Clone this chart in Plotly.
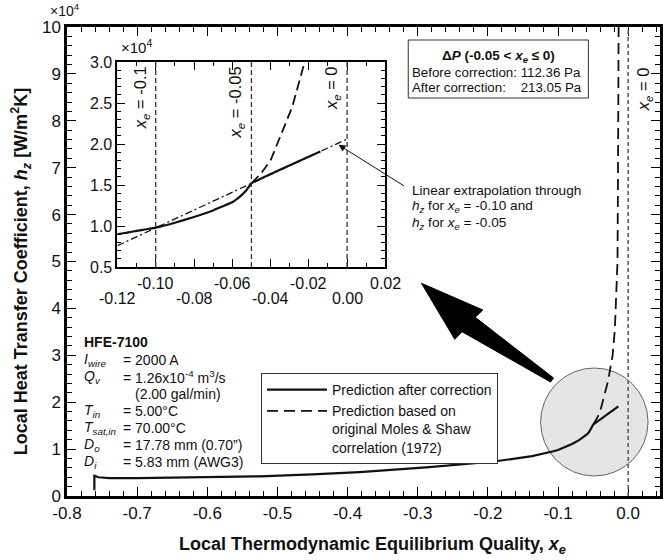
import plotly.graph_objects as go

# ---------------- data (h in units of 1e4 W/m2K) ----------------
x_corr = [-0.761, -0.761, -0.755, -0.74, -0.70, -0.65, -0.60, -0.525, -0.45, -0.383,
          -0.288, -0.194, -0.137, -0.12, -0.115, -0.11, -0.105, -0.10, -0.09, -0.08,
          -0.07, -0.065, -0.06, -0.0575, -0.055, -0.0525, -0.05, -0.014]
h_corr = [0.12, 0.43, 0.40, 0.38, 0.38, 0.39, 0.41, 0.42, 0.46, 0.51,
          0.61, 0.73, 0.85, 0.90, 0.92, 0.94, 0.96, 0.98, 1.04, 1.11,
          1.19, 1.24, 1.29, 1.33, 1.38, 1.44, 1.52, 1.91]

x_orig = [-0.05, -0.045, -0.04, -0.0356, -0.0287, -0.0243, -0.0222, -0.019,
          -0.0152, -0.0146, -0.0141, -0.0136]
h_orig = [1.52, 1.64, 1.80, 2.05, 2.45, 2.82, 3.00, 3.54,
          5.00, 6.50, 8.00, 10.00]

x_lin = [-0.12, -0.10, -0.05, 0.0]
h_lin = [0.76, 0.98, 1.52, 2.06]

main_xticks = [-0.8, -0.7, -0.6, -0.5, -0.4, -0.3, -0.2, -0.1, 0.0]
main_xtext = ["-0.8", "-0.7", "-0.6", "-0.5", "-0.4", "-0.3", "-0.2", "-0.1", "0.0"]
main_yticks = [0, 1, 2, 3, 4, 5, 6, 7, 8, 9, 10]
main_ytext = ["0", "1", "2", "3", "4", "5", "6", "7", "8", "9", "10"]

inset_yticks = [0.5, 1.0, 1.5, 2.0, 2.5, 3.0]
inset_ytext = ["0.5", "1.0", "1.5", "2.0", "2.5", "3.0"]
inset_x_row1 = [-0.10, -0.06, -0.02, 0.02]
inset_x_row1_text = ["-0.10", "-0.06", "-0.02", "0.02"]
inset_x_row2 = [-0.12, -0.08, -0.04, 0.00]
inset_x_row2_text = ["-0.12", "-0.08", "-0.04", "0.00"]

inset_vlines = [-0.1, -0.05, 0.0]
inset_vline_labels = ["-0.1", "-0.05", "0"]

param_labels = ["<i>I</i><sub><i>wire</i></sub>", "<i>Q</i><sub><i>v</i></sub>", "",
                "<i>T</i><sub><i>in</i></sub>", "<i>T</i><sub><i>sat,in</i></sub>",
                "<i>D</i><sub><i>o</i></sub>", "<i>D</i><sub><i>i</i></sub>"]
param_values = ["= 2000 A", "= 1.26x10<sup>-4</sup> m<sup>3</sup>/s", "(2.00 gal/min)",
                "= 5.00°C", "= 70.00°C", "= 17.78 mm (0.70”)", "= 5.83 mm (AWG3)"]

FONT = "Liberation Sans, Arial, Helvetica, sans-serif"

# plot-area geometry in pixels (for decorations)
L, R, T, B = 67, 663, 27, 496


def px(x):
    return (x - L) / (R - L)


def py(y):
    return (B - y) / (B - T)


fig = go.Figure()

# main traces
fig.add_trace(go.Scatter(x=x_orig, y=h_orig, mode="lines", xaxis="x", yaxis="y",
                         line=dict(color="#111", width=1.8, dash="11px,6px"),
                         name="Prediction based on<br>original Moles & Shaw<br>correlation (1972)",
                         legendrank=2))
fig.add_trace(go.Scatter(x=x_corr, y=h_corr, mode="lines", xaxis="x", yaxis="y",
                         line=dict(color="#111", width=2.2),
                         name="Prediction after correction", legendrank=1))

# inset traces
fig.add_trace(go.Scatter(x=x_lin, y=h_lin, mode="lines", xaxis="x2", yaxis="y2",
                         line=dict(color="#111", width=1.3, dash="7px,3px,2px,3px"),
                         showlegend=False))
fig.add_trace(go.Scatter(x=x_orig, y=h_orig, mode="lines", xaxis="x2", yaxis="y2",
                         line=dict(color="#111", width=1.8, dash="10px,5px"),
                         showlegend=False))
fig.add_trace(go.Scatter(x=x_corr, y=h_corr, mode="lines", xaxis="x2", yaxis="y2",
                         line=dict(color="#111", width=2.2, shape="spline", smoothing=0.3),
                         showlegend=False))

axis_common = dict(showline=True, linecolor="black", mirror="ticks", ticks="inside",
                   tickcolor="black", showgrid=False, zeroline=False)

fig.update_layout(
    width=663, height=560, autosize=False,
    margin=dict(l=L, r=663 - R, t=T, b=560 - B),
    paper_bgcolor="white", plot_bgcolor="white",
    font=dict(family=FONT, color="#111"),
    xaxis=dict(domain=[0, 1], range=[-0.8, -0.8 + (R - L) / 705.0], anchor="y",
               tickmode="array", tickvals=main_xticks, ticktext=main_xtext,
               ticklen=9, tickwidth=1.3, linewidth=2.5,
               tickfont=dict(size=17, family=FONT),
               minor=dict(tickmode="linear", tick0=0, dtick=0.02, ticks="inside",
                          ticklen=5, tickwidth=1, tickcolor="black"),
               **axis_common),
    yaxis=dict(domain=[0, 1], range=[0, 10], anchor="x",
               tickmode="array", tickvals=main_yticks, ticktext=main_ytext,
               ticklen=9, tickwidth=1.3, linewidth=2.5,
               tickfont=dict(size=17, family=FONT),
               minor=dict(tickmode="linear", tick0=0, dtick=0.2, ticks="inside",
                          ticklen=5, tickwidth=1, tickcolor="black"),
               **axis_common),
    xaxis2=dict(domain=[px(117.7), px(387)], range=[-0.12, 0.02], anchor="y2",
                tickmode="linear", tick0=-0.12, dtick=0.02, showticklabels=False,
                ticklen=8, tickwidth=1.2, linewidth=2,
                minor=dict(tickmode="linear", tick0=0, dtick=0.01, ticks="inside",
                           ticklen=4, tickwidth=1, tickcolor="black"),
                **axis_common),
    yaxis2=dict(domain=[py(267), py(62)], range=[0.5, 3.0], anchor="x2",
                tickmode="array", tickvals=inset_yticks, ticktext=inset_ytext,
                ticklen=8, tickwidth=1.2, linewidth=2,
                tickfont=dict(size=16, family=FONT),
                minor=dict(tickmode="linear", tick0=0, dtick=0.1, ticks="inside",
                           ticklen=4, tickwidth=1, tickcolor="black"),
                **axis_common),
    legend=dict(x=px(262), y=py(373), xanchor="left", yanchor="top",
                bgcolor="white", bordercolor="#333", borderwidth=1,
                font=dict(size=14, family=FONT), valign="top",
                itemwidth=60, tracegroupgap=4, traceorder="normal"),
    showlegend=True,
)

shapes = []
# magnifier circle (pixel geometry -> main data coords)
cx, cy, r = 597, 422, 54


def dx(p):
    return -0.8 + (p - L) / 705.0


def dy(p):
    return (B - p) / ((B - T) / 10.0)


shapes.append(dict(type="circle", xref="x", yref="y", x0=dx(cx - r), x1=dx(cx + r),
                   y0=dy(cy + r), y1=dy(cy - r), fillcolor="#e5e5e5",
                   line=dict(color="#666", width=1), layer="below"))
# big arrow
arrow_pts = [(423.3, 283.3), (485, 310), (477.3, 317.3), (556, 378), (553, 382),
             (464, 331.7), (456.7, 339.3)]
path = "M " + " L ".join(f"{px(a):.4f},{py(b):.4f}" for a, b in arrow_pts) + " Z"
shapes.append(dict(type="path", xref="paper", yref="paper", path=path,
                   fillcolor="black", line=dict(color="black", width=1)))
# main x_e = 0 line
shapes.append(dict(type="line", xref="x", yref="y domain", x0=0, x1=0, y0=0, y1=1,
                   line=dict(color="#555", width=1.5, dash="4px,3px")))
# inset vertical lines
for v in inset_vlines:
    shapes.append(dict(type="line", xref="x2", yref="y2 domain", x0=v, x1=v, y0=0, y1=1,
                       line=dict(color="#333", width=1.3, dash="5px,3px")))
# delta-P box
shapes.append(dict(type="rect", xref="paper", yref="paper", x0=px(410), x1=px(591),
                   y0=py(98), y1=py(40), line=dict(color="#333", width=1),
                   fillcolor="white"))
fig.update_layout(shapes=shapes)

ann = []


def A(text, x, y, size, xanchor="left", yanchor="middle", xref="paper", yref="paper",
      angle=0, **kw):
    ann.append(dict(text=text, x=x, y=y, xref=xref, yref=yref, xanchor=xanchor,
                    yanchor=yanchor, showarrow=False, textangle=angle,
                    font=dict(size=size, family=FONT, color="#111"), **kw))


# axis titles
A("<b>Local Thermodynamic Equilibrium Quality, <i>x</i><sub><i>e</i></sub></b>",
  px(374), py(545), 18, xanchor="center")
A("<b>Local Heat Transfer Coefficient, <i>h</i><sub><i>z</i></sub> [W/m<sup>2</sup>K]</b>",
  px(20), py(272), 18, xanchor="center", angle=-90)
# multipliers
A("×10<sup>4</sup>", px(48), py(10), 14)
A("×10<sup>4</sup>", px(119), py(47), 15)

# inset x tick labels (two staggered rows)
for v, t in zip(inset_x_row1, inset_x_row1_text):
    A(t, v, py(283), 16, xanchor="center", xref="x2")
for v, t in zip(inset_x_row2, inset_x_row2_text):
    A(t, v, py(298), 16, xanchor="center", xref="x2")

# inset vertical-line labels
for v, t in zip(inset_vlines, inset_vline_labels):
    A(f"<i>x</i><sub><i>e</i></sub> = {t}", v, py(64), 16.5, xanchor="right",
      yanchor="top", xref="x2", angle=-90, xshift=-3)
# main x_e = 0 label
A("<i>x</i><sub><i>e</i></sub> = 0", 0, py(65), 16.5, xanchor="left", yanchor="top",
  xref="x", angle=-90, xshift=4)

# delta-P box text
A("<b>Δ<i>P</i> (-0.05 &lt; <i>x</i><sub><i>e</i></sub> ≤ 0)</b>", px(500.5), py(56), 13.5,
  xanchor="center")
A("Before correction: 112.36 Pa", px(412), py(72.5), 13.3)
A("After correction:\u00a0\u00a0\u00a0 213.05 Pa", px(412), py(87), 13.3)

# linear extrapolation note
A("Linear extrapolation through", px(412), py(190), 13.6)
A("<i>h</i><sub><i>z</i></sub> for <i>x</i><sub><i>e</i></sub> = -0.10 and", px(412), py(206.5), 13.6)
A("<i>h</i><sub><i>z</i></sub> for <i>x</i><sub><i>e</i></sub> = -0.05", px(412), py(223), 13.6)
ann.append(dict(x=-0.0045, y=1.99, xref="x2", yref="y2", ax=67, ay=42, text="",
                showarrow=True, arrowhead=2, arrowsize=1.4, arrowwidth=1,
                arrowcolor="#111", standoff=0))

# parameters block
A("<b>HFE-7100</b>", px(82), py(342), 14)
rows_y = [360, 377, 394, 411, 428, 445, 462]
for lab, val, yy in zip(param_labels, param_values, rows_y):
    if lab:
        A(lab, px(82), py(yy), 14)
    A(val, px(133 if val.startswith("(") else 121), py(yy), 14)

fig.update_layout(annotations=ann)

fig.write_html("out.html")
